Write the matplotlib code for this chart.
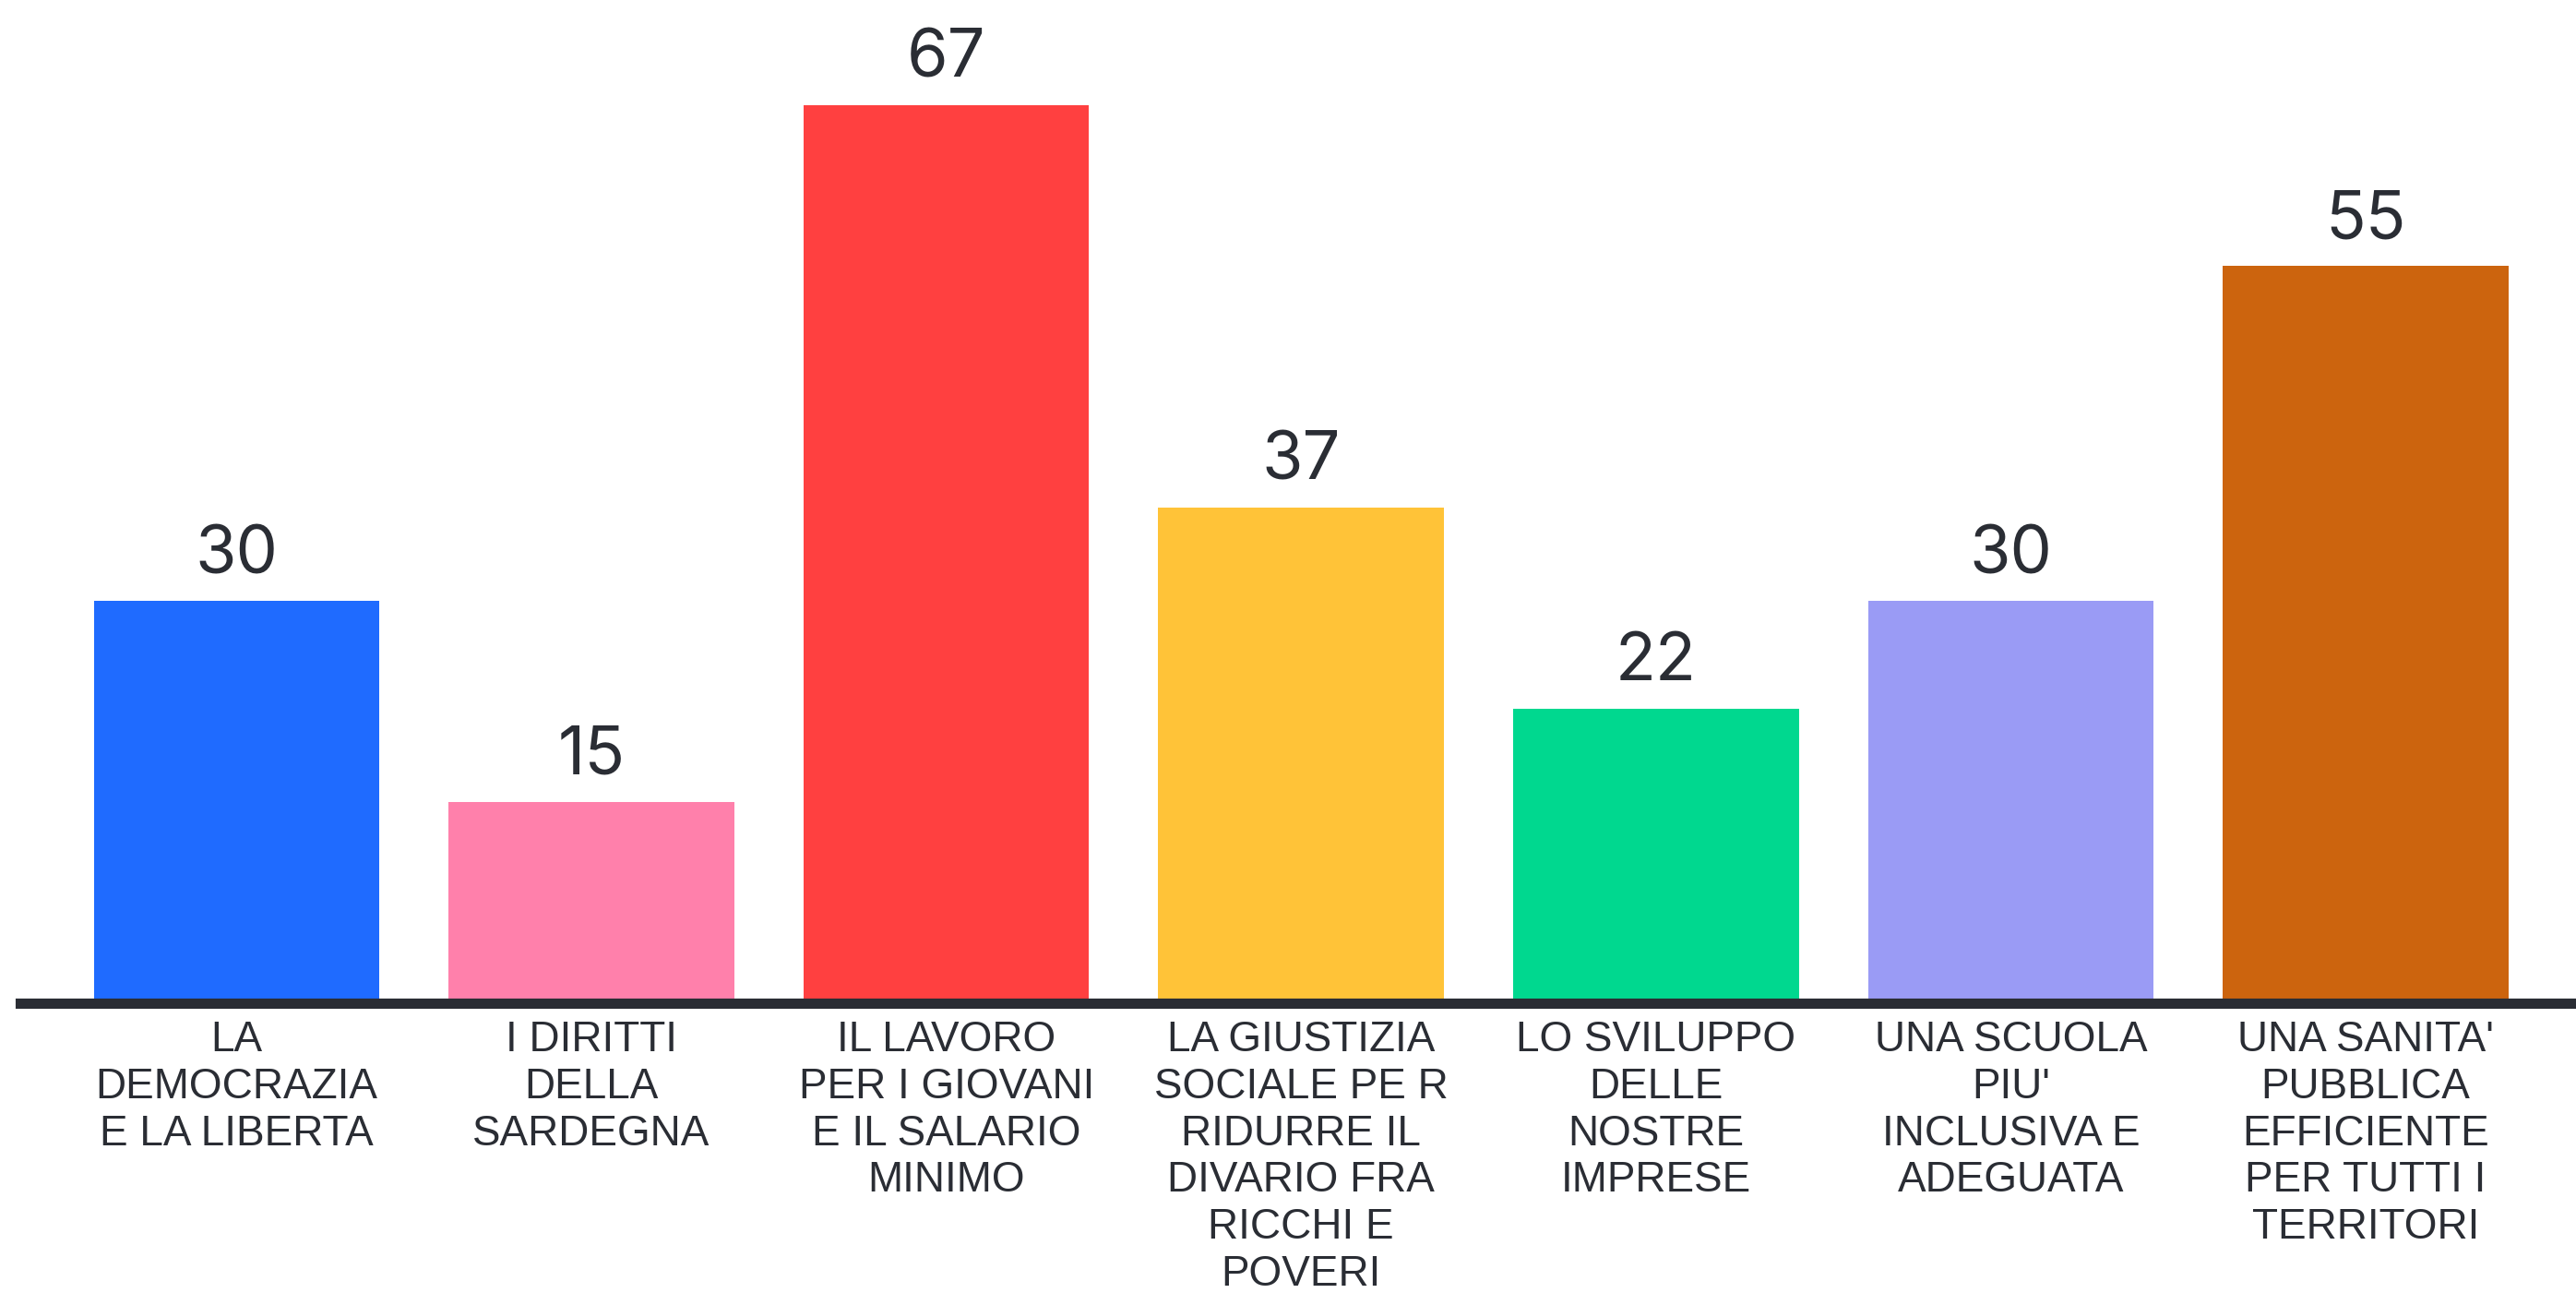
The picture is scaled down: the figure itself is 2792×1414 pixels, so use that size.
import matplotlib
matplotlib.use("Agg")
import matplotlib.pyplot as plt
from matplotlib import font_manager as fm

categories = [
    "LA\nDEMOCRAZIA\nE LA LIBERTA",
    "I DIRITTI\nDELLA\nSARDEGNA",
    "IL LAVORO\nPER I GIOVANI\nE IL SALARIO\nMINIMO",
    "LA GIUSTIZIA\nSOCIALE PE R\nRIDURRE IL\nDIVARIO FRA\nRICCHI E\nPOVERI",
    "LO SVILUPPO\nDELLE\nNOSTRE\nIMPRESE",
    "UNA SCUOLA\nPIU'\nINCLUSIVA E\nADEGUATA",
    "UNA SANITA'\nPUBBLICA\nEFFICIENTE\nPER TUTTI I\nTERRITORI",
]
values = [30, 15, 67, 37, 22, 30, 55]
colors = ["#1F6BFF", "#FF80AB", "#FF4040", "#FFC338", "#00D88F", "#9A9BF5", "#CC640E"]

names = {f.name for f in fm.fontManager.ttflist}
label_font = "Liberation Sans" if "Liberation Sans" in names else "DejaVu Sans"
num_font = "Inter" if "Inter" in names else "DejaVu Sans"

W, H = 2792, 1414
fig = plt.figure(figsize=(W / 100, H / 100), dpi=100)
fig.patch.set_facecolor("white")
ax = fig.add_axes([22 / W, (H - 1087) / H, 1 - 22 / W, 1087 / H])

x = list(range(len(values)))
ax.bar(x, values, width=0.805, color=colors, zorder=2)
ax.set_xlim(-0.61, 6.593)
ax.set_ylim(0, 74.86)

for xi, v in zip(x, values):
    ax.annotate(str(v), (xi, v), xytext=(0, 11), textcoords="offset points",
                ha="center", va="bottom", fontsize=52, color="#2a2d34",
                family=num_font)

for s in ["top", "right", "left"]:
    ax.spines[s].set_visible(False)
ax.spines["bottom"].set_linewidth(8)
ax.spines["bottom"].set_color("#2a2d34")
ax.spines["bottom"].set_zorder(3)
ax.set_yticks([])
ax.set_xticks(x)
ax.set_xticklabels(categories, fontsize=33, family=label_font, color="#2a2d34",
                   linespacing=1.2, va="top")
ax.tick_params(axis="x", length=0, pad=13)

fig.savefig("out.png", dpi=100, facecolor="white")
